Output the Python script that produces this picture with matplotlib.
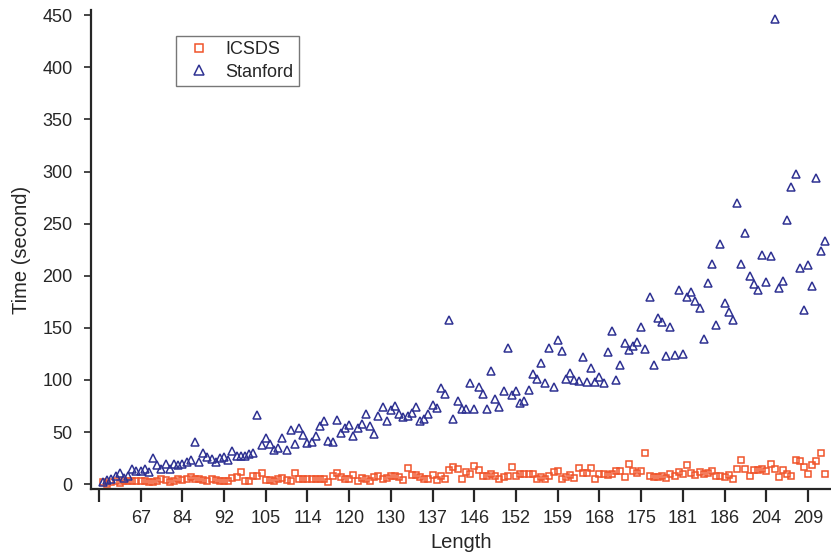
import matplotlib
matplotlib.use("Agg")
import matplotlib.pyplot as plt
import numpy as np

# ---- data -----------------------------------------------------------
tick_labels = ['', '67', '84', '92', '105', '114', '120', '130', '137', '146',
               '152', '159', '168', '175', '181', '186', '204', '209']

icsds = [2.2, 0.6, 2.2, 2.9, 1.3, 2.9, 3.2, 2.9, 2.9, 3.5,
         2.9, 1.9, 1.9, 3.5, 5.4, 3.8, 1.6, 3.5, 5.1, 3.8,
         5.1, 6.4, 5.4, 5.1, 3.8, 2.9, 5.1, 3.8, 2.9, 2.9,
         2.9, 6.1, 6.8, 11.8, 2.9, 2.9, 7.7, 7.7, 10.8, 3.8,
         3.8, 3.5, 4.8, 6.1, 3.8, 2.9, 10.8, 4.8, 4.8, 4.8,
         4.8, 4.8, 4.8, 4.8, 1.6, 8.0, 10.8, 6.4, 4.5, 4.8,
         8.6, 3.2, 6.1, 4.5, 3.2, 6.4, 7.9, 5.4, 6.1, 7.7,
         7.7, 6.4, 3.8, 15.6, 8.6, 8.6, 6.4, 4.5, 5.4, 8.6,
         3.8, 7.7, 4.8, 14.0, 16.6, 15.0, 4.5, 11.8, 10.2, 17.5,
         13.4, 7.7, 7.7, 9.6, 7.7, 4.8, 6.4, 7.7, 16.6, 7.7,
         9.6, 9.6, 9.6, 9.6, 5.4, 6.4, 4.8, 7.9, 11.8, 12.8,
         4.5, 6.4, 9.0, 5.8, 15.6, 10.8, 10.8, 15.6, 4.8, 9.6,
         9.3, 8.6, 9.6, 12.8, 12.5, 6.4, 19.8, 12.5, 10.8, 12.8,
         30.0, 7.7, 6.4, 7.0, 7.7, 6.1, 10.2, 7.7, 11.2, 9.3,
         18.8, 10.8, 8.6, 11.8, 9.6, 10.8, 12.8, 8.0, 8.0, 7.0,
         8.6, 5.4, 14.4, 23.6, 15.0, 8.0, 14.0, 13.4, 14.4, 12.8,
         19.8, 15.0, 7.0, 13.4, 10.2, 8.0, 23.6, 22.4, 16.6, 10.2,
         18.2, 22.4, 30.0, 10.2]

stanford = [2.2, 3.8, 4.8, 7.7, 10.8, 6.1, 7.7, 15.0, 12.5, 12.5,
            15.0, 11.5, 25.2, 18.2, 14.4, 19.2, 14.4, 19.8, 18.8, 19.8,
            21.3, 23.0, 40.6, 21.3, 30.0, 26.3, 23.9, 21.3, 25.2, 26.3,
            23.0, 32.0, 27.2, 27.2, 27.2, 28.8, 30.0, 66.0, 37.4, 44.4,
            39.0, 33.2, 35.1, 44.4, 32.6, 52.4, 39.0, 54.0, 47.0, 39.6,
            40.6, 46.0, 55.5, 60.4, 41.5, 40.6, 62.0, 49.3, 54.0, 56.5,
            46.0, 54.0, 58.0, 67.0, 55.5, 48.6, 65.0, 74.0, 60.4, 71.5,
            75.0, 67.6, 64.5, 65.0, 68.3, 74.0, 60.7, 63.0, 67.0, 76.3,
            73.4, 92.7, 87.0, 157.7, 62.3, 79.5, 72.0, 72.5, 96.6, 72.0,
            93.3, 87.0, 72.0, 108.7, 81.6, 74.0, 89.2, 131.0, 85.4, 89.2,
            78.0, 80.0, 90.2, 106.0, 100.6, 116.2, 96.6, 130.3, 93.0, 138.0,
            127.8, 100.6, 106.6, 100.2, 99.2, 121.9, 97.6, 111.4, 97.6, 102.7,
            97.0, 127.0, 147.4, 99.6, 114.3, 135.4, 129.0, 132.2, 136.3, 151.3,
            129.9, 179.7, 114.6, 159.6, 155.5, 122.6, 151.3, 123.8, 186.4, 125.1,
            180.0, 184.8, 175.9, 168.8, 139.5, 193.4, 211.0, 152.9, 230.8, 173.6,
            165.0, 157.7, 270.0, 211.0, 241.3, 199.8, 191.8, 186.7, 219.9, 194.4,
            219.3, 446.0, 188.3, 194.7, 253.1, 285.0, 298.0, 207.2, 167.3, 210.1,
            189.8, 294.0, 223.8, 233.0]

# ---- plot -----------------------------------------------------------
plt.rcParams['font.family'] = ['Liberation Sans', 'DejaVu Sans']
txt = '#262626'

fig = plt.figure(figsize=(8.31, 5.58), dpi=100)
ax = fig.add_axes([0.109, 0.123, 0.891, 0.859])

x = np.arange(1, len(icsds) + 1)
ax.plot(x, icsds, linestyle='none', marker='s', ms=5, mfc='none',
        mec='#F0532A', mew=1.1, label='ICSDS')
ax.plot(np.arange(1, len(stanford) + 1), stanford, linestyle='none', marker='^',
        ms=5.5, mfc='none', mec='#2E3192', mew=1.1, label='Stanford')

ax.set_xlim(-2, 175.5)
ax.set_ylim(-5, 455)
ax.set_xticks(np.arange(0, 10 * len(tick_labels), 10))
ax.set_xticklabels(tick_labels)
ax.set_yticks(np.arange(0, 451, 50))

for s in ['top', 'right']:
    ax.spines[s].set_visible(False)
for s in ['left', 'bottom']:
    ax.spines[s].set_color(txt)
    ax.spines[s].set_linewidth(1.6)

ax.tick_params(axis='x', direction='out', length=9, width=1.6, colors=txt,
               labelsize=13, pad=6)
ax.tick_params(axis='y', direction='out', length=5, width=1.2, colors=txt,
               labelsize=13, pad=8)

ax.set_xlabel('Length', fontsize=14.5, color=txt, labelpad=4)
ax.set_ylabel('Time (second)', fontsize=14.5, color=txt, labelpad=8)

leg = ax.legend(loc='upper left', bbox_to_anchor=(0.115, 0.946),
                borderaxespad=0, fancybox=False, frameon=True, fontsize=13,
                handlelength=2.0, handletextpad=0.45, borderpad=0.3,
                labelspacing=0.3, markerscale=1.2)
leg.get_frame().set_edgecolor('#555555')
leg.get_frame().set_linewidth(1.0)
for t in leg.get_texts():
    t.set_color(txt)

fig.savefig('out.png', dpi=100)
